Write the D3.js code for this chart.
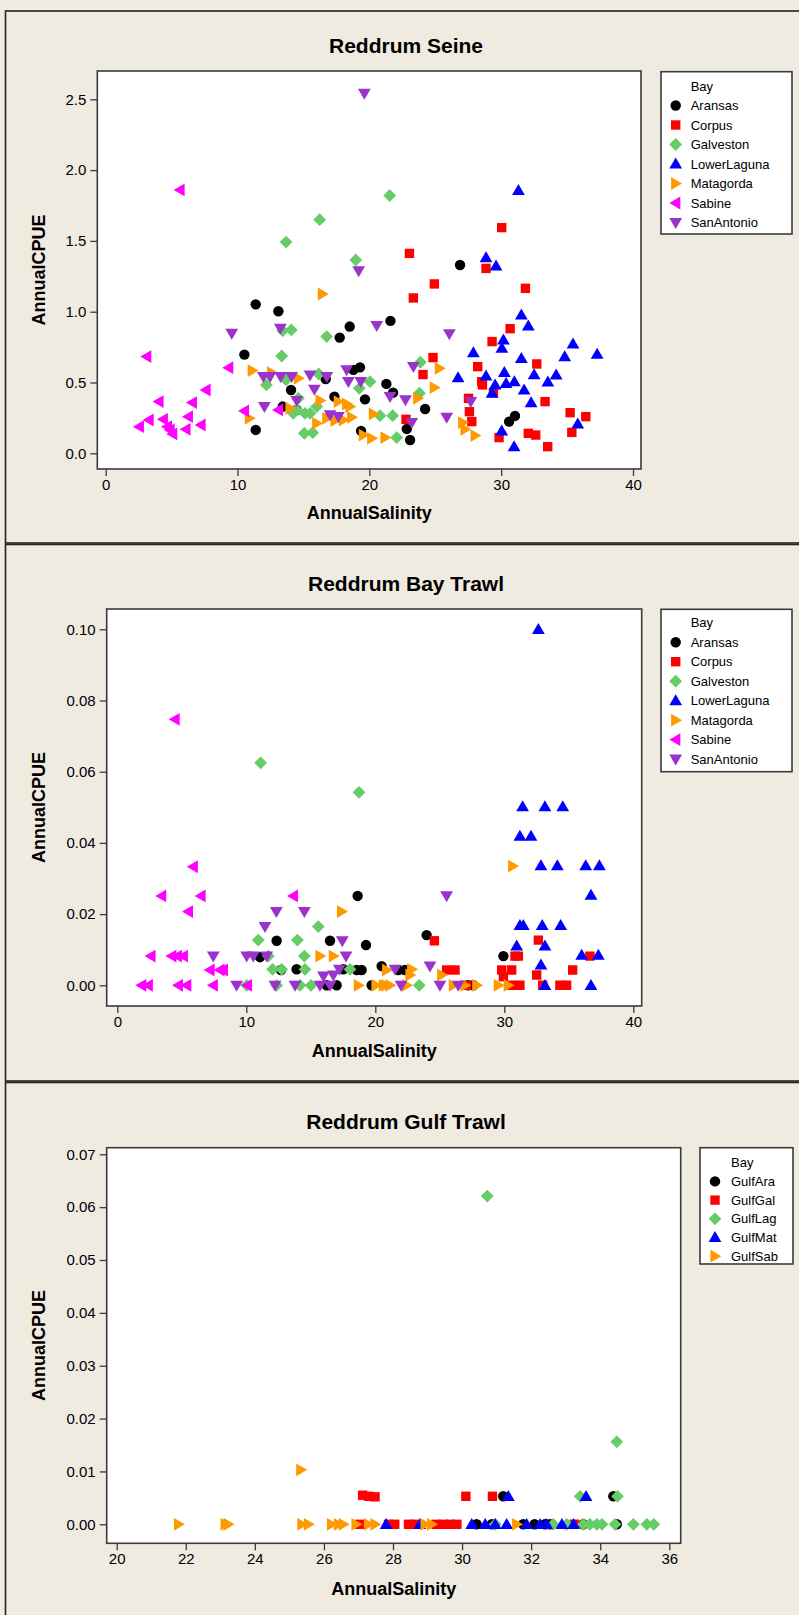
<!DOCTYPE html>
<html><head><meta charset="utf-8">
<script src="https://cdn.jsdelivr.net/npm/d3@7"></script>
<style>
html,body{margin:0;padding:0;background:#efebe1;}
svg{display:block;}
text{font-family:Arial,"Liberation Sans",sans-serif;fill:#000;}
</style></head><body>
<svg id="c" width="799" height="1615"></svg>
<script>
// ---------------- DATA ----------------
const titles = ["Reddrum Seine", "Reddrum Bay Trawl", "Reddrum Gulf Trawl"];
const xLabel = "AnnualSalinity";
const yLabel = "AnnualCPUE";
const legendTitle = "Bay";

const bayNames = ["Aransas", "Corpus", "Galveston", "LowerLaguna", "Matagorda", "Sabine", "SanAntonio"];
const gulfNames = ["GulfAra", "GulfGal", "GulfLag", "GulfMat", "GulfSab"];

const seineXTicks = [0, 10, 20, 30, 40];
const seineYTicks = [0, 0.5, 1.0, 1.5, 2.0, 2.5];
const seineYTickLabels = ["0.0", "0.5", "1.0", "1.5", "2.0", "2.5"];
const bayXTicks = [0, 10, 20, 30, 40];
const bayYTicks = [0, 0.02, 0.04, 0.06, 0.08, 0.10];
const bayYTickLabels = ["0.00", "0.02", "0.04", "0.06", "0.08", "0.10"];
const gulfXTicks = [20, 22, 24, 26, 28, 30, 32, 34, 36];
const gulfYTicks = [0, 0.01, 0.02, 0.03, 0.04, 0.05, 0.06, 0.07];
const gulfYTickLabels = ["0.00", "0.01", "0.02", "0.03", "0.04", "0.05", "0.06", "0.07"];

// Seine: [AnnualSalinity, AnnualCPUE]
const seineAransas = [[11.38,1.052],[13.10,1.003],[21.60,0.935],[18.51,0.895],[17.75,0.817],[10.52,0.697],[19.29,0.607],[18.79,0.589],[16.69,0.525],[21.29,0.490],[21.80,0.428],[14.06,0.447],[17.35,0.400],[19.67,0.381],[24.23,0.313],[13.43,0.330],[14.49,0.306],[11.38,0.165],[19.37,0.158],[22.84,0.172],[23.09,0.094],[26.88,1.330],[31.05,0.264],[30.60,0.224]];
const seineCorpus = [[23.04,1.412],[24.93,1.196],[23.34,1.097],[24.83,0.676],[24.07,0.556],[22.78,0.240],[30.04,1.594],[28.85,1.306],[31.84,1.165],[30.68,0.880],[29.31,0.789],[28.22,0.612],[32.70,0.631],[28.52,0.506],[28.58,0.483],[29.41,0.428],[27.52,0.388],[27.59,0.294],[27.77,0.224],[33.33,0.365],[35.23,0.287],[36.42,0.259],[35.36,0.148],[32.06,0.141],[32.62,0.129],[29.84,0.111],[33.53,0.047]];
const seineGalveston = [[21.54,1.820],[16.23,1.650],[13.68,1.492],[18.97,1.365],[14.08,0.871],[13.43,0.866],[16.76,0.824],[13.35,0.687],[23.87,0.643],[16.16,0.560],[20.05,0.506],[12.19,0.483],[13.68,0.518],[19.24,0.459],[23.80,0.424],[14.62,0.388],[16.01,0.330],[14.49,0.306],[15.12,0.282],[14.23,0.282],[15.50,0.282],[20.81,0.266],[21.77,0.266],[15.07,0.141],[15.70,0.146],[22.08,0.111]];
const seineLowerLaguna = [[31.31,1.857],[28.85,1.382],[29.61,1.323],[31.53,0.977],[32.06,0.899],[30.17,0.800],[30.05,0.742],[27.89,0.711],[31.53,0.671],[35.45,0.772],[34.82,0.683],[37.28,0.701],[26.73,0.534],[28.85,0.546],[30.24,0.572],[32.50,0.556],[34.17,0.553],[29.54,0.483],[30.37,0.494],[31.00,0.506],[33.54,0.504],[29.31,0.424],[31.74,0.447],[32.27,0.358],[35.81,0.207],[30.04,0.158],[30.98,0.047]];
const seineMatagorda = [[16.44,1.125],[11.12,0.584],[12.59,0.570],[14.62,0.530],[25.31,0.600],[24.93,0.464],[23.67,0.388],[16.26,0.372],[17.65,0.365],[18.28,0.348],[18.53,0.330],[13.98,0.318],[10.90,0.247],[16.01,0.212],[16.77,0.247],[17.40,0.231],[18.03,0.235],[18.66,0.254],[20.31,0.278],[19.55,0.129],[20.18,0.106],[21.19,0.111],[27.08,0.217],[27.26,0.170],[28.02,0.125]];
const seineSabine = [[5.64,1.860],[3.11,0.683],[9.33,0.605],[7.61,0.447],[6.57,0.358],[4.04,0.365],[10.52,0.299],[13.10,0.306],[6.27,0.259],[3.29,0.235],[4.37,0.240],[2.55,0.188],[4.68,0.188],[5.08,0.137],[6.09,0.169],[7.23,0.200],[4.88,0.165]];
const seineSanAntonio = [[19.62,2.542],[19.19,1.288],[9.56,0.847],[13.25,0.883],[20.56,0.902],[23.34,0.612],[18.28,0.589],[11.96,0.541],[12.47,0.541],[13.27,0.541],[14.11,0.541],[15.50,0.553],[16.77,0.541],[18.41,0.506],[19.35,0.506],[15.83,0.452],[21.57,0.400],[22.74,0.377],[12.04,0.330],[14.49,0.372],[17.02,0.271],[17.65,0.259],[23.21,0.217],[26.07,0.843],[27.69,0.365],[25.87,0.254]];

// Bay Trawl
const bayAransas = [[18.63,0.0251],[12.35,0.0125],[16.49,0.0125],[19.28,0.0113],[11.06,0.0079],[13.90,0.0045],[17.52,0.0045],[18.56,0.0043],[18.94,0.0043],[12.69,0.0043],[20.49,0.0054],[16.23,0],[17.00,0],[19.72,0],[23.98,0.0141],[21.79,0.0043],[22.30,0.0043],[29.93,0.0082],[27.21,0],[27.60,0]];
const bayCorpus = [[24.58,0.0125],[30.83,0.0082],[31.09,0.0082],[32.64,0.0127],[36.64,0.0082],[25.53,0.0043],[26.18,0.0043],[29.80,0.0043],[30.57,0.0043],[32.51,0.0029],[35.30,0.0043],[29.93,0.0024],[27.08,0],[30.57,0],[31.21,0],[32.98,0],[34.31,0],[34.83,0]];
const bayGalveston = [[11.11,0.0625],[18.74,0.0542],[15.58,0.0165],[10.93,0.0127],[13.96,0.0127],[11.71,0.0082],[14.50,0.0082],[12.04,0.0045],[12.74,0.0045],[14.55,0.0045],[18.04,0.0045],[10.03,0],[12.35,0],[14.16,0],[15.02,0],[23.41,0]];
const bayLowerLaguna = [[32.64,0.1],[31.42,0.0502],[33.15,0.0502],[34.53,0.0502],[31.21,0.0419],[32.07,0.0419],[32.84,0.0336],[34.11,0.0336],[36.31,0.0336],[37.37,0.0336],[36.72,0.0253],[31.21,0.0168],[31.47,0.0168],[32.94,0.0168],[34.37,0.0168],[30.96,0.0111],[33.15,0.0111],[36.00,0.0085],[37.29,0.0085],[32.84,0.0057],[33.15,0],[36.72,0]];
const bayMatagorda = [[17.39,0.0207],[15.71,0.0082],[16.75,0.0082],[18.69,0],[20.05,0],[20.83,0],[20.88,0.0043],[30.65,0.0335],[22.82,0.0045],[22.69,0.0029],[25.15,0.0029],[21.14,0],[22.43,0],[26.05,0],[26.95,0],[27.86,0],[29.54,0],[30.31,0],[20.62,0]];
const baySabine = [[4.48,0.0747],[5.89,0.0333],[3.44,0.0251],[6.49,0.0251],[5.51,0.0207],[13.65,0.0251],[2.61,0.0082],[4.22,0.0082],[4.65,0.0082],[5.12,0.0082],[7.19,0.0043],[7.96,0.0043],[8.22,0.0043],[1.89,0],[2.40,0],[4.73,0],[5.38,0],[7.44,0],[10.08,0]];
const baySanAntonio = [[12.33,0.0207],[14.50,0.0207],[11.45,0.0165],[17.44,0.0125],[7.44,0.0082],[10.03,0.0082],[10.54,0.0082],[11.58,0.0082],[17.73,0.0082],[17.21,0.0045],[16.75,0.0029],[15.98,0.0026],[9.25,0],[12.23,0],[13.78,0],[15.71,0],[16.49,0],[25.53,0.0251],[24.24,0.0054],[21.53,0.0045],[22.00,0],[25.01,0],[26.43,0]];

// Gulf Trawl
const gulfAra = [[31.19,0.0053],[34.38,0.0053],[30.42,0],[30.86,0],[31.77,0],[32.10,0],[32.40,0],[32.55,0],[33.51,0],[34.48,0]];
const gulfGal = [[27.12,0.0055],[27.29,0.0053],[27.48,0.0052],[30.11,0.0053],[30.88,0.0053],[27.04,0],[27.87,0],[28.05,0],[28.45,0],[28.62,0],[29.25,0],[29.45,0],[29.65,0],[29.85,0],[33.25,0]];
const gulfLag = [[30.73,0.0621],[34.48,0.0156],[33.42,0.0053],[34.50,0.0053],[30.96,0],[32.64,0],[33.03,0],[33.51,0],[33.70,0],[33.90,0],[34.05,0],[34.43,0],[34.96,0],[35.35,0],[35.55,0]];
const gulfMat = [[27.80,0],[28.78,0],[31.34,0.0053],[33.59,0.0053],[30.28,0],[30.67,0],[30.96,0],[31.29,0],[31.87,0],[32.26,0],[32.45,0],[32.89,0],[33.23,0]];
const gulfSab = [[21.79,0],[23.14,0],[23.23,0],[25.33,0.0103],[25.36,0],[25.55,0],[26.22,0],[26.42,0],[26.56,0],[26.93,0],[27.29,0],[27.48,0],[28.93,0],[29.12,0],[31.58,0]];

// ---------------- STYLE ----------------
const symbolStyles = [
  {shape:"circle",  color:"#000000"},
  {shape:"square",  color:"#ff0000"},
  {shape:"diamond", color:"#66cc66"},
  {shape:"up",      color:"#0000ff"},
  {shape:"right",   color:"#ff9900"},
  {shape:"left",    color:"#ff00ff"},
  {shape:"down",    color:"#9933cc"}
];

function shapePath(s){
  switch(s){
    case "circle": { const r=5.2; return `M${r},0A${r},${r} 0 1 1 ${-r},0A${r},${r} 0 1 1 ${r},0Z`; }
    case "square": { const a=4.7; return `M${-a},${-a}H${a}V${a}H${-a}Z`; }
    case "diamond": { const d=6.4; return `M0,${-d}L${d},0L0,${d}L${-d},0Z`; }
    case "up": return "M0,-6.4L6.4,4.6L-6.4,4.6Z";
    case "down": return "M0,6.4L6.4,-4.6L-6.4,-4.6Z";
    case "right": return "M6.4,0L-4.6,6.4L-4.6,-6.4Z";
    case "left": return "M-6.4,0L4.6,6.4L4.6,-6.4Z";
  }
}

const svg = d3.select("#c");
const BG = "#efebe1", FRAME = "#3a3a3a";

const panels = [
  { top:11, bottom:543, title:titles[0], titleY:45,
    frame:{l:97.3,t:71,r:641,b:469},
    x:d3.scaleLinear().domain([0,40]).range([105.7,633]),
    y:d3.scaleLinear().domain([0,2.5]).range([453.3,99.3]),
    xTicks:seineXTicks, xTickLabels:seineXTicks.map(String),
    yTicks:seineYTicks, yTickLabels:seineYTickLabels,
    xLabelY:512.5,
    series:[seineAransas,seineCorpus,seineGalveston,seineLowerLaguna,seineMatagorda,seineSabine,seineSanAntonio],
    names:bayNames, legend:{l:661,t:71.7,r:792,b:234, mx:675.7, tx:690.7, y0:86, dy:19.5}
  },
  { top:544.5, bottom:1081, title:titles[1], titleY:583,
    frame:{l:106.7,t:609,r:641.7,b:1006},
    x:d3.scaleLinear().domain([0,40]).range([117.3,633.3]),
    y:d3.scaleLinear().domain([0,0.1]).range([985.3,629.3]),
    xTicks:bayXTicks, xTickLabels:bayXTicks.map(String),
    yTicks:bayYTicks, yTickLabels:bayYTickLabels,
    xLabelY:1050.5,
    series:[bayAransas,bayCorpus,bayGalveston,bayLowerLaguna,bayMatagorda,baySabine,baySanAntonio],
    names:bayNames, legend:{l:661,t:609.3,r:792,b:771.7, mx:675.7, tx:690.7, y0:622.7, dy:19.5}
  },
  { top:1082.5, bottom:1640, title:titles[2], titleY:1121,
    frame:{l:106.7,t:1147.7,r:680.7,b:1543.3},
    x:d3.scaleLinear().domain([20,36]).range([116.7,669.3]),
    y:d3.scaleLinear().domain([0,0.07]).range([1524.3,1154.3]),
    xTicks:gulfXTicks, xTickLabels:gulfXTicks.map(String),
    yTicks:gulfYTicks, yTickLabels:gulfYTickLabels,
    xLabelY:1588.5,
    series:[gulfAra,gulfGal,gulfLag,gulfMat,gulfSab],
    names:gulfNames, legend:{l:700,t:1147.7,r:793,b:1264, mx:715, tx:731, y0:1162.7, dy:18.7}
  }
];

panels.forEach((p,pi)=>{
  const g = svg.append("g");
  g.append("rect").attr("x",5.5).attr("y",p.top).attr("width",820).attr("height",p.bottom-p.top)
    .attr("fill",BG).attr("stroke","#222").attr("stroke-width",1.6);
  g.append("text").attr("x",406).attr("y",p.titleY).attr("dy","0.36em").attr("text-anchor","middle")
    .style("font-size","21px").style("font-weight","bold").text(p.title);
  const f = p.frame;
  g.append("rect").attr("x",f.l).attr("y",f.t).attr("width",f.r-f.l).attr("height",f.b-f.t)
    .attr("fill","#fff");
  const cid = "clip"+pi;
  g.append("clipPath").attr("id",cid).append("rect").attr("x",f.l).attr("y",f.t).attr("width",f.r-f.l).attr("height",f.b-f.t);
  const pts = g.append("g").attr("clip-path",`url(#${cid})`);
  p.series.forEach((data,si)=>{
    const st = symbolStyles[si];
    pts.selectAll(null).data(data).enter().append("path")
      .attr("d",shapePath(st.shape)).attr("fill",st.color)
      .attr("transform",d=>`translate(${p.x(d[0])},${p.y(d[1])})`);
  });
  g.append("rect").attr("x",f.l).attr("y",f.t).attr("width",f.r-f.l).attr("height",f.b-f.t)
    .attr("fill","none").attr("stroke",FRAME).attr("stroke-width",1.6);
  const xa = d3.axisBottom(p.x).tickValues(p.xTicks).tickFormat((d,i)=>p.xTickLabels[i]).tickSize(7).tickPadding(3);
  const ya = d3.axisLeft(p.y).tickValues(p.yTicks).tickFormat((d,i)=>p.yTickLabels[i]).tickSize(7).tickPadding(4);
  const gx = g.append("g").attr("transform",`translate(0,${f.b})`).call(xa);
  const gy = g.append("g").attr("transform",`translate(${f.l},0)`).call(ya);
  [gx,gy].forEach(a=>{
    a.select(".domain").remove();
    a.selectAll(".tick line").attr("stroke",FRAME).attr("stroke-width",1.3);
    a.selectAll(".tick text").style("font-size","15px").attr("fill","#000").style("font-family","Arial, 'Liberation Sans', sans-serif");
  });
  g.append("text").attr("x",(f.l+f.r)/2).attr("y",p.xLabelY).attr("dy","0.36em").attr("text-anchor","middle")
    .style("font-size","18px").style("font-weight","bold").text(xLabel);
  g.append("text").attr("transform",`translate(39,${(f.t+f.b)/2}) rotate(-90)`).attr("dy","0.36em").attr("text-anchor","middle")
    .style("font-size","18px").style("font-weight","bold").text(yLabel);
  const L = p.legend;
  g.append("rect").attr("x",L.l).attr("y",L.t).attr("width",L.r-L.l).attr("height",L.b-L.t)
    .attr("fill","#fff").attr("stroke",FRAME).attr("stroke-width",1.6);
  g.append("text").attr("x",L.tx).attr("y",L.y0).attr("dy","0.36em").style("font-size","13px").text(legendTitle);
  p.names.forEach((nm,i)=>{
    const yy = L.y0 + L.dy*(i+1);
    const st = symbolStyles[i];
    g.append("path").attr("d",shapePath(st.shape)).attr("fill",st.color).attr("transform",`translate(${L.mx},${yy})`);
    g.append("text").attr("x",L.tx).attr("y",yy).attr("dy","0.36em").style("font-size","13px").text(nm);
  });
});
</script>
</body></html>
